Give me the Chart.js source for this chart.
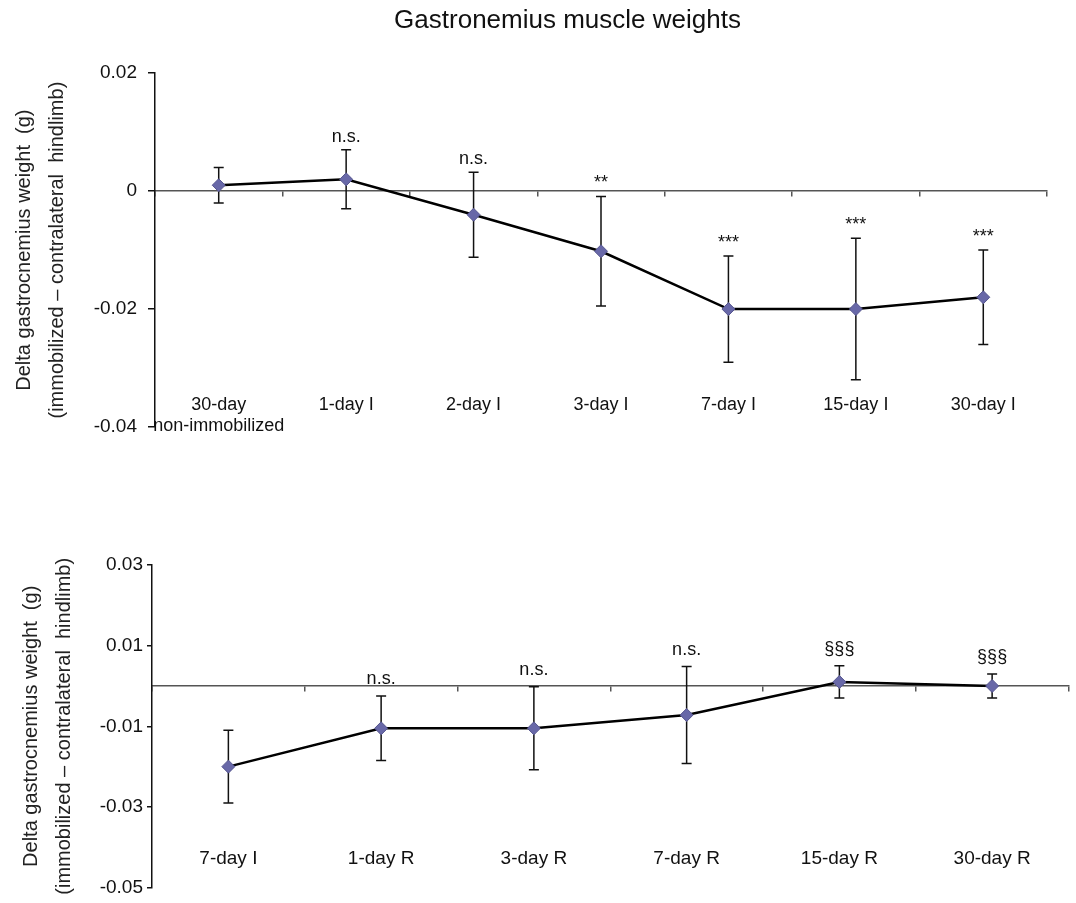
<!DOCTYPE html>
<html>
<head>
<meta charset="utf-8">
<script src="https://cdn.jsdelivr.net/npm/chart.js@4.4.1/dist/chart.umd.min.js"></script>
<style>
  body { margin: 0; background: #fff; }
  #top { position: absolute; left: 0; top: 0; width: 1076px; height: 450px; }
  #bottom { position: absolute; left: 0; top: 450px; width: 1076px; height: 453px; }
</style>
</head>
<body>
<div id="top"><canvas id="topChart"></canvas></div>
<div id="bottom"><canvas id="bottomChart"></canvas></div>
<script>
// immobilization series
const topLabels = [['30-day', 'non-immobilized'], '1-day I', '2-day I', '3-day I', '7-day I', '15-day I', '30-day I'];
const topMeans = [0.001, 0.002, -0.004, -0.0102, -0.020, -0.020, -0.018];
const topErrors = [0.003, 0.005, 0.0072, 0.0093, 0.009, 0.012, 0.008];
const topSignif = ['', 'n.s.', 'n.s.', '**', '***', '***', '***'];
const topTicks = [-0.04, -0.02, 0, 0.02];

// recovery series
const bottomLabels = ['7-day I', '1-day R', '3-day R', '7-day R', '15-day R', '30-day R'];
const bottomMeans = [-0.020, -0.0105, -0.0105, -0.0072, 0.001, 0];
const bottomErrors = [0.009, 0.008, 0.0103, 0.012, 0.004, 0.003];
const bottomSignif = ['', 'n.s.', 'n.s.', 'n.s.', '§§§', '§§§'];
const bottomTicks = [-0.05, -0.03, -0.01, 0.01, 0.03];

const yTitle = ['Delta gastrocnemius weight  (g)', '(immobilized \u2013 contralateral  hindlimb)'];

Chart.defaults.font.family = 'Arial, "Liberation Sans", sans-serif';
Chart.defaults.color = '#111';

// error bars + significance marks, drawn through the y scale
function errorBars(errors, signif, gap) {
    return {
        id: 'errorBars',
        beforeDatasetsDraw(chart) {
            const ctx = chart.ctx;
            const y = chart.scales.y;
            const values = chart.data.datasets[0].data;
            ctx.save();
            ctx.strokeStyle = '#111';
            ctx.lineWidth = 1.5;
            chart.getDatasetMeta(0).data.forEach((pt, i) => {
                const hi = y.getPixelForValue(values[i] + errors[i]);
                const lo = y.getPixelForValue(values[i] - errors[i]);
                ctx.beginPath();
                ctx.moveTo(pt.x, hi); ctx.lineTo(pt.x, lo);
                ctx.moveTo(pt.x - 5, hi); ctx.lineTo(pt.x + 5, hi);
                ctx.moveTo(pt.x - 5, lo); ctx.lineTo(pt.x + 5, lo);
                ctx.stroke();
            });
            ctx.restore();
        },
        afterDatasetsDraw(chart) {
            const ctx = chart.ctx;
            const y = chart.scales.y;
            const values = chart.data.datasets[0].data;
            ctx.save();
            ctx.fillStyle = '#111';
            ctx.textAlign = 'center';
            ctx.textBaseline = 'alphabetic';
            ctx.font = '18px Arial, "Liberation Sans", sans-serif';
            chart.getDatasetMeta(0).data.forEach((pt, i) => {
                if (!signif[i]) return;
                ctx.fillText(signif[i], pt.x, y.getPixelForValue(values[i] + errors[i]) - gap);
            });
            ctx.restore();
        }
    };
}

function lineDataset(values) {
    return {
        data: values,
        borderColor: '#000',
        borderWidth: 2.5,
        tension: 0,
        pointStyle: 'rectRot',
        pointRadius: 6.5,
        pointBackgroundColor: '#6868a8',
        pointBorderColor: '#56568f',
        pointBorderWidth: 1,
        xAxisID: 'x'
    };
}

// top chart: immobilized vs contralateral
new Chart(document.getElementById('topChart'), {
    type: 'line',
    data: { labels: topLabels, datasets: [lineDataset(topMeans)] },
    options: {
        responsive: true,
        maintainAspectRatio: false,
        animation: false,
        layout: { padding: { left: 88, right: 29, top: 0, bottom: 23 } },
        plugins: {
            legend: { display: false },
            tooltip: { enabled: false },
            title: {
                display: true,
                text: 'Gastronemius muscle weights',
                color: '#111',
                font: { size: 26, weight: 'normal' },
                padding: { top: 5, bottom: 37 }
            }
        },
        scales: {
            x: {
                type: 'category',
                position: { y: -0.04 },
                offset: true,
                grid: { display: false, drawTicks: false },
                border: { display: false },
                ticks: { padding: -33, font: { size: 18, lineHeight: 1.2 }, maxRotation: 0, autoSkip: false }
            },
            x0: {
                type: 'category',
                position: { y: 0 },
                offset: true,
                grid: { offset: true, drawOnChartArea: false, tickLength: 5, color: '#555', lineWidth: 1.5 },
                border: { color: '#555', width: 1.5 },
                ticks: { display: false }
            },
            y: {
                min: -0.04,
                max: 0.02,
                afterBuildTicks: s => { s.ticks = topTicks.map(v => ({ value: v })); },
                ticks: { callback: v => String(+v.toFixed(2)), padding: 11, font: { size: 19 } },
                grid: { drawOnChartArea: false, tickLength: 7, color: '#111', lineWidth: 1.5 },
                border: { color: '#111', width: 1.5 },
                title: { display: true, text: yTitle, color: '#222', font: { size: 20, lineHeight: 1.65 }, padding: { top: -80 } },
                afterFit: s => { s.width = 67; }
            }
        }
    },
    plugins: [errorBars(topErrors, topSignif, 8)]
});

// bottom chart: recovery
new Chart(document.getElementById('bottomChart'), {
    type: 'line',
    data: { labels: bottomLabels, datasets: [lineDataset(bottomMeans)] },
    options: {
        responsive: true,
        maintainAspectRatio: false,
        animation: false,
        layout: { padding: { left: 0, right: 6, top: 115, bottom: 11 } },
        plugins: {
            legend: { display: false },
            tooltip: { enabled: false }
        },
        scales: {
            x: {
                type: 'category',
                position: { y: -0.05 },
                offset: true,
                grid: { display: false, drawTicks: false },
                border: { display: false },
                ticks: { padding: -40, font: { size: 19, lineHeight: 1.2 }, maxRotation: 0, autoSkip: false }
            },
            x0: {
                type: 'category',
                position: { y: 0 },
                offset: true,
                grid: { offset: true, drawOnChartArea: false, tickLength: 5, color: '#555', lineWidth: 1.5 },
                border: { color: '#555', width: 1.5 },
                ticks: { display: false }
            },
            y: {
                min: -0.05,
                max: 0.03,
                afterBuildTicks: s => { s.ticks = bottomTicks.map(v => ({ value: v })); },
                ticks: { callback: v => String(+v.toFixed(2)), padding: 4, font: { size: 19 } },
                grid: { drawOnChartArea: false, tickLength: 5, color: '#111', lineWidth: 1.5 },
                border: { color: '#111', width: 1.5 },
                title: { display: true, text: yTitle, color: '#222', font: { size: 20, lineHeight: 1.65 }, padding: { top: 15 } },
                afterFit: s => { s.width = 152; }
            }
        }
    },
    plugins: [errorBars(bottomErrors, bottomSignif, 12)]
});
</script>
</body>
</html>
